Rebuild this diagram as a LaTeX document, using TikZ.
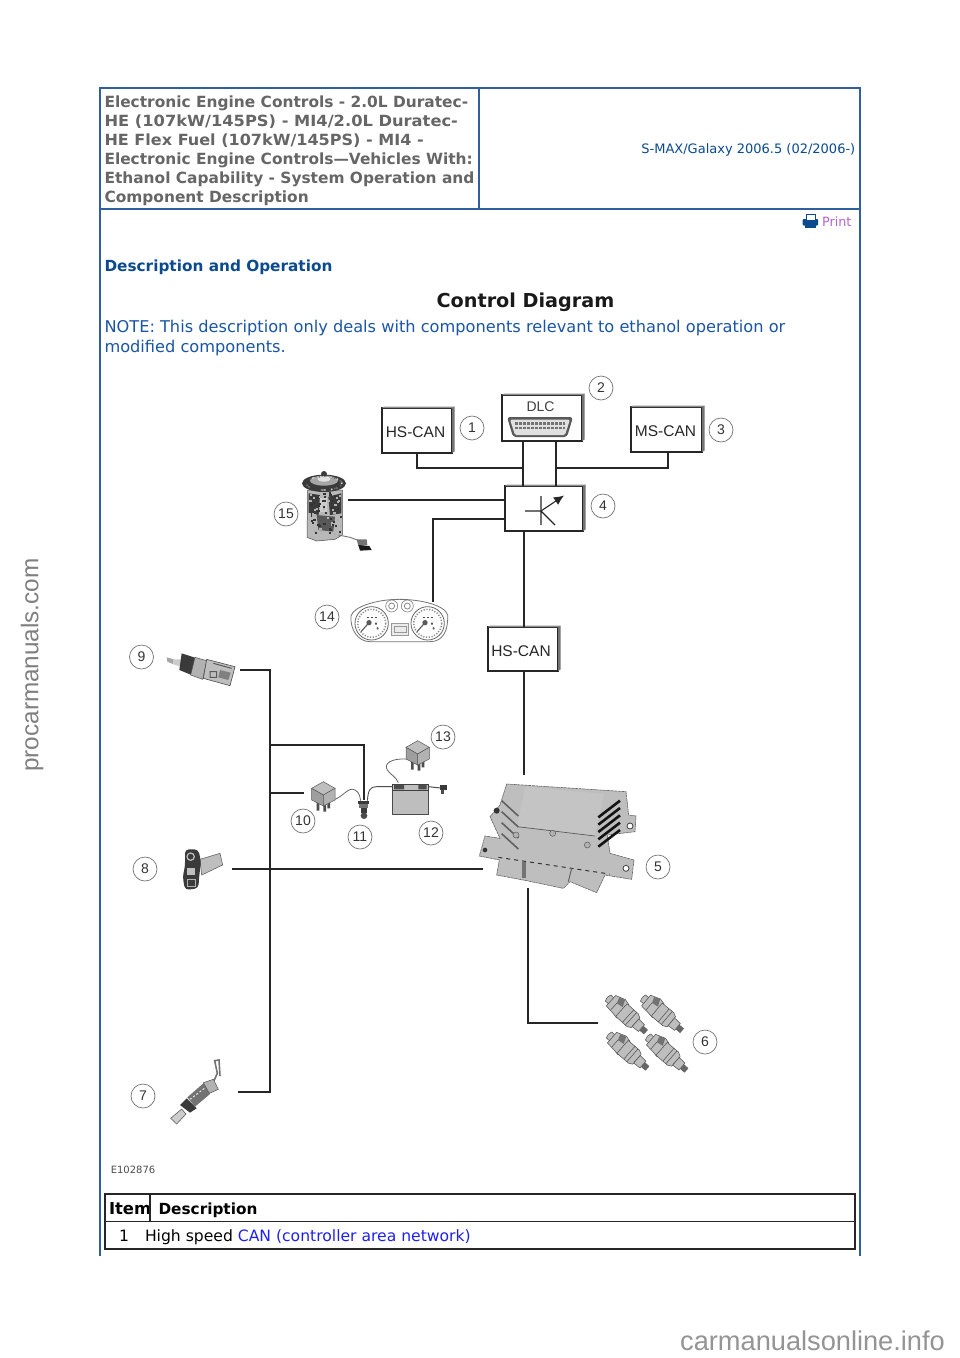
\documentclass[tikz,border=0pt]{standalone}
\usepackage{graphicx}
\usepackage{fontspec}
\setmainfont{DejaVu Sans}
\newfontfamily\arialf{Liberation Sans}
\usetikzlibrary{arrows.meta}
\definecolor{frameblue}{HTML}{2F5F9E}
\definecolor{titlegray}{HTML}{666666}
\definecolor{headblue}{HTML}{0B4A8E}
\definecolor{noteblue}{HTML}{1A55A5}
\definecolor{linkblue}{HTML}{1F1FF0}
\definecolor{printpurple}{HTML}{B565C8}
\definecolor{compgray}{HTML}{BEBEBE}
\definecolor{compdark}{HTML}{3A3A3A}
\definecolor{wmgray}{HTML}{808080}
\tikzset{
  txt/.style={anchor=base west,inner sep=0pt,outer sep=0pt},
  ttl/.style={txt,font=\fontsize{15.4}{19}\selectfont\bfseries,text=titlegray},
  notetxt/.style={txt,font=\fontsize{16.2}{20}\selectfont,text=noteblue},
  tabtxt/.style={txt,font=\fontsize{15.6}{19}\selectfont},
  cbox/.style={draw=black!85,line width=1.1pt,fill=white,inner sep=0pt,outer sep=0pt,font=\arialf\fontsize{15.5}{18}\selectfont,text=black!85,text height=14pt,text depth=0pt},
  numc/.style={circle,draw=black!55,line width=.7pt,fill=white,minimum size=24pt,inner sep=0pt,font=\arialf\fontsize{14}{16}\selectfont,text=black!80},
  wire/.style={draw=black!85,line width=1.2pt},
  fine/.style={draw=black!70,line width=.5pt},
  zf/.style={x=.33333pt,y=-.33333pt},
  part/.style={fill=compgray,draw=black!70,line width=.5pt}
}
\newcommand{\bevel}[1]{\fill[black!55] (#1.north east) -- ++(2.5,-1.5) -- ([shift={(2.5pt,1.5pt)}]#1.south east) -- (#1.south east) -- cycle;
 \fill[black!45] (#1.north west) -- ++(2,-1.5) -- ++(0,0) -- ([shift={(2.5pt,1.5pt)}]#1.north east) -- (#1.north east) -- cycle;}
\newcommand{\injector}[3]{\begin{scope}[shift={(#1pt,-#2pt)},rotate=#3,x=1pt,y=-1pt]
 \fill[part] (5,-4) -- (0,-4) -- (-1,0) -- (0,4) -- (5,4) -- cycle;
 \fill[part] (4,-7) -- (14,-10.5) -- (20,-9) -- (20,9) -- (14,8) -- (4,7) -- cycle;
 \fill[black!55] (8,-8) -- (14,-10) -- (17,-3) -- (10,-2) -- cycle;
 \draw[fine] (10,-2) -- (10,7);
 \fill[part] (18,-8.5) -- (33,-8.5) -- (37,-6.5) -- (37,6.5) -- (33,8.5) -- (18,8.5) -- cycle;
 \draw[fine] (27,-8.5) -- (27,8.5) (31,-8.5) -- (31,8.5);
 \fill[part] (37,-5) -- (45,-4.5) -- (45,4.5) -- (37,5) -- cycle;
 \fill[black!60] (45,-3) rectangle (51,3);
 \end{scope}}
\begin{document}
\begin{tikzpicture}[x=1pt,y=-1pt]
\useasboundingbox (0,0) rectangle (960,1358);
\fill[white] (0,0) rectangle (960,1358);
% page frame
\draw[frameblue,line width=1.2pt] (100,1256) -- (100,88) -- (860,88) -- (860,1256);
\draw[frameblue,line width=1.2pt] (100,209) -- (860,209) (479,88) -- (479,209);
% header
\node[ttl] (t1) at (104.5,107.5) {Electronic Engine Controls - 2.0L Duratec-};
\node[ttl] (t2) at (104.5,126.5) {\scalebox{1.057}[1]{HE (107kW/145PS) - MI4/2.0L Duratec-}};
\node[ttl] (t3) at (104.5,145.5) {\scalebox{1.042}[1]{HE Flex Fuel (107kW/145PS) - MI4 -}};
\node[ttl] (t4) at (104.5,164.5) {Electronic Engine Controls—Vehicles With:};
\node[ttl] (t5) at (104.5,183.5) {Ethanol Capability - System Operation and};
\node[ttl] (t6) at (104.5,202.5) {Component Description};
\node[anchor=base east,inner sep=0pt,font=\fontsize{13}{15}\selectfont,text=headblue] (model) at (855.5,153) {S-MAX/Galaxy 2006.5 (02/2006-)};
% print icon
\fill[headblue,rounded corners=1pt] (802.5,219) rectangle (818,225.5);
\fill[white,draw=headblue,line width=1pt] (806,214.5) rectangle (815,220);
\fill[headblue] (805,225) rectangle (816,228);
\node[txt,font=\fontsize{12.8}{15}\selectfont,text=printpurple] (print) at (822,226.5) {Print};
\node[txt,font=\fontsize{15.3}{19}\selectfont\bfseries,text=headblue] (desc) at (104.5,271.5) {Description and Operation};
\node[anchor=base,inner sep=0pt,font=\fontsize{19.2}{24}\selectfont\bfseries,text=black!90] (ctrl) at (525.5,307) {Control Diagram};
\node[notetxt] (n1) at (104.5,332) {NOTE: This description only deals with components relevant to ethanol operation or};
\node[notetxt] (n2) at (104.5,352) {modified components.};

% --- boxes ---
\node[cbox,minimum width=70pt,minimum height=45pt] (hs1) at (417,430.5) {\hspace*{-3pt}HS-CAN};
\bevel{hs1}
\node[cbox,minimum width=80pt,minimum height=46pt] (dlc) at (542,418) {};
\bevel{dlc}
\node[inner sep=0pt,font=\arialf\fontsize{14}{16}\selectfont,text=black!75] (dlct) at (540.5,407) {DLC};
\fill[black!65,rounded corners=3pt] (507,417) -- (573,417) -- (567,437) -- (513,437) -- cycle;
\fill[black!12,rounded corners=1.5pt] (510,419.5) -- (570,419.5) -- (565,435) -- (515,435) -- cycle;
\foreach \yy in {423.5,428}{\draw[black!55,line width=2.4pt,dash pattern=on 3pt off 1pt] (515,\yy) -- (565,\yy);}
\node[cbox,minimum width=71pt,minimum height=45pt] (ms) at (666.5,429.5) {\hspace*{-2pt}MS-CAN};
\bevel{ms}
\node[cbox,minimum width=78pt,minimum height=45pt] (gw) at (544,508.5) {};
\bevel{gw}
\node[cbox,minimum width=70pt,minimum height=44pt] (hs2) at (523,649) {\hspace*{-4pt}HS-CAN};
\bevel{hs2}
% transistor symbol
\coordinate (trb) at (541,511);
\draw[black!85,line width=1.1pt] (525,511) -- (trb) (541,496) -- (541,525) (trb) -- (555,525);
\draw[black!85,line width=1.1pt,-{Latex[length=10pt,width=9pt]}] (trb) -- (564,495.5);

% --- free connector ends ---
\coordinate (pumpend) at (348,500);
\coordinate (clusterend) at (433,602);
\coordinate (ecutop) at (524,775);
\coordinate (s9end) at (240,670);
\coordinate (s7end) at (238,1092);
\coordinate (s8end) at (232,869);
\coordinate (eculeft) at (483,869);
\coordinate (r10end) at (304,793);
\coordinate (c11end) at (364,800);
\coordinate (ecubot) at (528,888);
\coordinate (injend) at (598,1023);
\coordinate (busT) at (270,670);
\coordinate (busB) at (270,1092);
\coordinate (busL) at (523,468);
\coordinate (busR) at (556,468);

% --- connectors ---
\draw[wire] (hs1.south) |- (busL);
\draw[wire] (523,441) -- (523,486);
\draw[wire] (556,441) -- (556,486);
\draw[wire] (668,452) |- (busR);
\draw[wire] (pumpend) -- (pumpend -| gw.west);
\draw[wire] (505,519) -| (clusterend);
\draw[wire] (524,531) -- (524,627);
\draw[wire] (524,671) -- (ecutop);
\draw[wire] (s9end) -- (busT) -- (busB) -- (s7end);
\draw[wire] (270,745) -| (c11end);
\draw[wire] (270,793) -- (r10end);
\draw[wire] (s8end) -- (eculeft);
\draw[wire] (ecubot) |- (injend);

% --- fuel pump 15 ---
\pgfmathsetseed{7}
\begin{scope}[shift={(270pt,-460pt)},zf]
\fill[black!28,draw=black!70,line width=.5pt] (113,90) -- (217,90) -- (217,225) -- (195,238) -- (140,243) -- (111,232) -- cycle;
\fill[compdark] (116,100) -- (150,105) -- (146,165) -- (116,158) -- cycle;
\fill[compdark] (175,110) -- (214,100) -- (214,160) -- (180,165) -- cycle;
\fill[black!65] (140,165) -- (195,170) -- (190,215) -- (145,210) -- cycle;
\fill[black!20] (150,115) rectangle (172,155);
\foreach \i in {1,...,70}{
 \pgfmathsetmacro{\px}{118+rnd*92}\pgfmathsetmacro{\py}{95+rnd*125}\pgfmathsetmacro{\pg}{rnd>0.4?80:30}
 \fill[black!\pg] (\px,\py) rectangle ++(7,6);
}
\fill[compdark] (162,70) ellipse (66 and 26);
\fill[black!35] (162,62) ellipse (42 and 15);
\fill[black!12] (162,57) ellipse (20 and 8);
\fill[compdark] (162,42) circle (9);
\foreach \i in {1,...,30}{
 \pgfmathsetmacro{\an}{rnd*360}\pgfmathsetmacro{\pg}{rnd>0.5?60:20}
 \fill[black!\pg] ({162+53*cos(\an)},{70+20*sin(\an)}) circle (3);
}
\draw[black!55,line width=.9pt] (205,225) -- (240,232) -- (270,243);
\fill[black!55] (260,238) -- (290,238) -- (292,255) -- (265,258) -- cycle;
\fill[black!90] (265,255) -- (298,258) -- (305,270) -- (270,272) -- cycle;
\end{scope}

% --- cluster 14 ---
\begin{scope}[shift={(270pt,-460pt)},zf]
\draw[fill=white,draw=black!55,line width=.8pt] (243,468) .. controls (250,440) and (320,418) .. (388,418) .. controls (450,418) and (525,435) .. (533,465) .. controls (535,510) and (520,545) .. (480,545) -- (300,545) .. controls (265,545) and (240,510) .. (243,468) -- cycle;
\foreach \cx in {305,473}{
 \draw[fill=white,draw=black!60,line width=.8pt] (\cx,490) circle (50);
 \draw[black!45,line width=1.5pt,dash pattern=on 1.2pt off 1.6pt] (\cx,490) circle (42);
 \fill[black!65] (\cx-8,488) circle (8);
 \draw[black!65,line width=1.1pt] (\cx-8,488) -- (\cx-32,515);
 \draw[black!70,line width=1.6pt,dash pattern=on 2pt off 2pt] (\cx-15,472) -- (\cx+18,472);
 \draw[black!70,line width=1.6pt,dash pattern=on 2pt off 3pt] (\cx+12,488) -- (\cx+20,512);
}
\draw[fill=white,draw=black!50,line width=.6pt] (365,438) circle (18) (412,438) circle (18);
\draw[black!45,line width=.8pt] (365,438) circle (9) (412,438) circle (9);
\draw[draw=black!40,fill=black!8,line width=.7pt] (365,490) rectangle (415,525);
\draw[black!40,line width=.6pt] (372,500) rectangle (408,518);
\end{scope}

% --- sensor 9 ---
\begin{scope}[shift={(100pt,-620pt)},zf]
\fill[black!35] (200,112) -- (222,118) -- (218,132) -- (202,125) -- cycle;
\fill[black!20] (220,118) -- (245,118) -- (240,140) -- (218,132) -- cycle;
\fill[compdark] (245,100) -- (285,113) -- (275,165) -- (238,150) -- cycle;
\fill[black!30,draw=black!70,line width=.5pt] (285,112) -- (320,122) -- (308,178) -- (272,165) -- cycle;
\fill[compgray,draw=black!70,line width=.6pt] (320,118) -- (405,140) -- (390,197) -- (310,175) -- cycle;
\draw[black!65,line width=1pt] (340,130) -- (395,145) (330,155) rectangle (350,172);
\fill[black!50] (360,150) -- (392,158) -- (385,180) -- (355,172) -- cycle;
\end{scope}
% --- sensor 8 ---
\begin{scope}[shift={(100pt,-620pt)},zf]
\fill[compgray,draw=black!60,line width=.6pt] (300,718) -- (360,700) -- (368,735) -- (305,765) -- cycle;
\fill[compdark,rounded corners=4pt] (255,688) -- (295,688) -- (303,725) -- (298,765) -- (295,805) -- (255,810) -- (248,770) -- (255,740) -- cycle;
\draw[black!25,line width=1.2pt] (272,710) circle (11);
\fill[black!25] (260,745) rectangle (285,765);
\draw[black!30,line width=1pt] (262,778) rectangle (285,800);
\end{scope}
% --- sensor 7 ---
\begin{scope}[shift={(100pt,-1040pt)},zf]
\draw[black!55,line width=1.6pt] (342,122) -- (352,100) -- (344,62) -- (357,60) -- (360,108);
\fill[black!20,draw=black!70,line width=.5pt] (212,235) -- (245,207) -- (258,222) -- (230,252) -- cycle;
\fill[compdark] (240,195) -- (260,175) -- (290,205) -- (270,218) -- cycle;
\fill[black!55] (262,172) -- (310,130) -- (330,162) -- (285,200) -- cycle;
\draw[black!10,line width=1pt,dash pattern=on 2pt off 2pt] (270,178) -- (320,140);
\fill[black!30,draw=black!70,line width=.5pt] (310,128) -- (340,118) -- (355,148) -- (328,160) -- cycle;
\end{scope}

% --- relays, battery, connector, ECU ---
\begin{scope}[shift={(270pt,-560pt)},zf]
\foreach \ox/\oy in {0/0,283/-123}{
\begin{scope}[xshift=\ox*.33333pt,yshift=-\oy*.33333pt]
\fill[black!70] (140,725) rectangle (148,752) (160,730) rectangle (168,755) (172,725) rectangle (180,745);
\fill[compgray,draw=black!65,line width=.5pt] (125,685) -- (160,665) -- (195,685) -- (160,705) -- cycle;
\fill[black!38,draw=black!65,line width=.5pt] (125,685) -- (160,705) -- (160,738) -- (125,720) -- cycle;
\fill[black!30,draw=black!65,line width=.5pt] (195,685) -- (160,705) -- (160,738) -- (195,720) -- cycle;
\end{scope}}
\draw[black!60,line width=.8pt] (195,718) .. controls (225,705) and (235,680) .. (255,690) .. controls (270,697) and (270,715) .. (272,722);
\draw[black!60,line width=.8pt] (408,597) .. controls (365,595) and (340,610) .. (352,630) .. controls (362,645) and (378,650) .. (385,668);
\draw[black!70,line width=.9pt] (292,722) .. controls (295,690) and (300,680) .. (320,680) -- (368,680);
% connector 11
\fill[compdark] (265,722) rectangle (298,732);
\fill[black!55] (268,732) rectangle (295,745);
\fill[compdark] (272,745) rectangle (292,760);
\fill[black!70] (282,767) circle (10);
% battery
\fill[compgray,draw=black!70,line width=.6pt] (368,690) rectangle (475,763);
\fill[black!25,draw=black!75,line width=.8pt] (368,672) rectangle (475,692);
\fill[black!70] (372,674) rectangle (402,688) (445,674) rectangle (470,688);
\draw[black!70,line width=1pt] (475,680) -- (512,684);
\fill[compdark] (510,675) rectangle (530,690);
\fill[black!70] (513,690) rectangle (523,702);
% ECU
\fill[compgray,draw=black!60,line width=.6pt,dash pattern=on 3pt off .6pt] (710,672) -- (1068,695) -- (1076,765) -- (1098,768) -- (1095,815) -- (1012,825) -- (1020,880) -- (1092,900) -- (1085,958) -- (1005,945) -- (980,998) -- (900,965) -- (880,985) -- (770,962) -- (680,945) -- (688,900) -- (628,888) -- (645,828) -- (690,835) -- (660,770) -- (690,735) -- cycle;
\fill[black!23] (765,680) -- (1002,702) -- (975,828) -- (742,800) -- cycle;
\draw[black!65,line width=.7pt] (742,800) -- (975,828);
\draw[black!80,line width=1pt,dash pattern=on 4pt off 4pt] (685,892) -- (1018,942);
\draw[black!60,line width=1pt] (905,925) -- (895,965);
\fill[black!55] (755,905) rectangle (768,955);
\foreach \yy in {0,1,2,3,4}{
 \draw[black!92,line width=2.6pt] (985,{772+\yy*22}) -- (1050,{722+\yy*22});
}
\foreach \yy in {0,1,2,3}{
 \draw[black!62,line width=1.6pt] (695,{722+\yy*33}) -- (745,{768+\yy*33});
}
\foreach \hx/\hy in {738/825,848/820,952/855}{
 \fill[black!30,draw=black!65,line width=.5pt] (\hx,\hy) circle (9);
}
\foreach \hx/\hy in {1080/798,1068/925}{
 \fill[white,draw=black!75,line width=.8pt] (\hx,\hy) circle (9);
}
\fill[black!80] (680,752) circle (9);
\fill[black!80] (645,870) circle (7);
\end{scope}

% injectors
\injector{608}{998}{-42}
\injector{643}{998}{-40}
\injector{609}{1035}{-41}
\injector{648}{1037}{-41}

% --- numbered circles ---
\node[numc] (c1) at (472,428) {1};
\node[numc] (c2) at (601,388) {2};
\node[numc] (c3) at (721,430) {3};
\node[numc] (c4) at (603,506) {4};
\node[numc] (c5) at (658,867) {5};
\node[numc] (c6) at (705,1042) {6};
\node[numc] (c7) at (143,1096) {7};
\node[numc] (c8) at (145,869) {8};
\node[numc] (c9) at (141.5,657) {9};
\node[numc] (c10) at (303,821) {10};
\node[numc] (c11) at (360,837) {11};
\node[numc] (c12) at (431,833) {12};
\node[numc] (c13) at (443,737) {13};
\node[numc] (c14) at (327,617) {14};
\node[numc] (c15) at (286,514) {15};
\node[anchor=base,inner sep=0pt,font=\fontsize{10}{11}\selectfont,text=black!70] (code) at (133,1173) {E102876};

% --- table ---
\draw[black!85,line width=1.2pt] (105,1194) rectangle (855,1249);
\draw[black!85,line width=1.2pt] (105,1221.5) -- (855,1221.5);
\begin{scope}
\clip (105,1195) rectangle (150,1221);
\node[tabtxt,font=\fontsize{16.4}{19}\selectfont\bfseries] (item) at (109,1214) {Item};
\end{scope}
\draw[black!85,line width=1.2pt] (150,1194) -- (150,1221.5);
\node[tabtxt,font=\fontsize{15.3}{19}\selectfont\bfseries] (dh) at (158.5,1214) {Description};
\node[tabtxt] (r1) at (119,1241) {1};
\node[tabtxt] (r2) at (145,1241) {High speed \textcolor{linkblue}{CAN (controller area network)}};

% --- watermarks ---
\node[rotate=90,inner sep=0pt,font=\arialf\fontsize{24.3}{30}\selectfont,text=wmgray] (wm1) at (32,665) {procarmanuals.com};
\node[anchor=base east,inner sep=0pt,font=\arialf\fontsize{27.2}{30}\selectfont,text=black!42] (wm2) at (945,1350) {carmanualsonline.info};
\end{tikzpicture}
\end{document}
